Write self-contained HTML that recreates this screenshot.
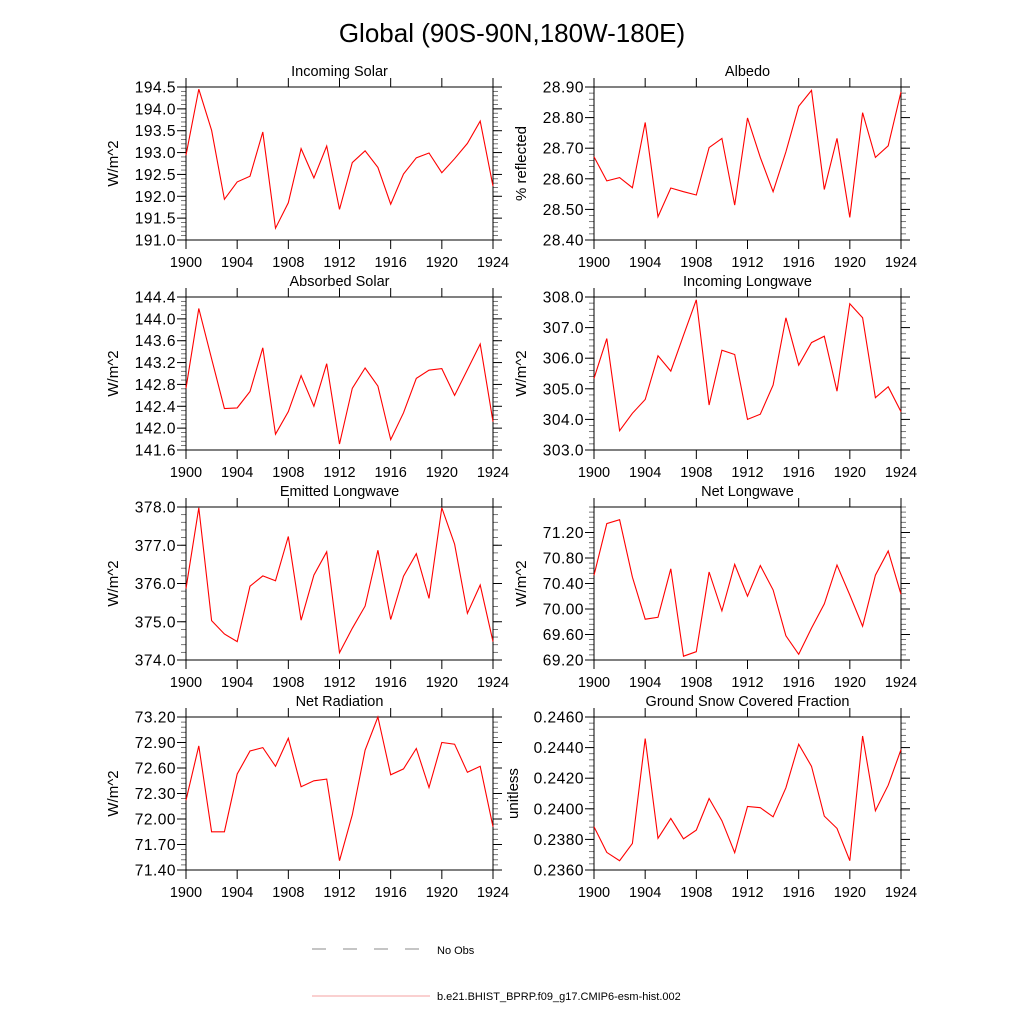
<!DOCTYPE html>
<html><head><meta charset="utf-8"><style>
html,body{margin:0;padding:0;background:#fff;}
svg{display:block;font-family:"Liberation Sans",sans-serif;}
</style></head><body>
<svg id="chart" width="1024" height="1024" viewBox="0 0 1024 1024">
<text x="512" y="42" text-anchor="middle" font-size="26">Global (90S-90N,180W-180E)</text>
<g>
<line x1="312" y1="949" x2="430" y2="949" stroke="#666" stroke-width="0.8" stroke-dasharray="14,17"/>
<text x="437" y="954" font-size="11">No Obs</text>
<line x1="312" y1="996" x2="430" y2="996" stroke="#f08080" stroke-width="0.8"/>
<text x="437" y="1000" font-size="11">b.e21.BHIST_BPRP.f09_g17.CMIP6-esm-hist.002</text>
</g>
</svg>
<script>
const years = [1900,1901,1902,1903,1904,1905,1906,1907,1908,1909,1910,1911,1912,1913,1914,1915,1916,1917,1918,1919,1920,1921,1922,1923,1924];
const xTicks = [1900,1904,1908,1912,1916,1920,1924];
const incomingSolar = [192.94,194.45,193.51,191.93,192.33,192.46,193.47,191.27,191.85,193.09,192.42,193.15,191.70,192.77,193.04,192.66,191.82,192.51,192.88,192.99,192.54,192.86,193.21,193.72,192.23];
const albedo = [28.672,28.593,28.604,28.571,28.784,28.476,28.570,28.558,28.547,28.702,28.732,28.514,28.799,28.670,28.558,28.688,28.837,28.889,28.565,28.732,28.474,28.816,28.670,28.708,28.884];
const absorbedSolar = [142.73,144.19,143.27,142.36,142.37,142.67,143.47,141.89,142.30,142.96,142.40,143.18,141.71,142.73,143.10,142.77,141.79,142.28,142.91,143.06,143.09,142.60,143.07,143.54,142.12];
const incomingLW = [305.34,306.64,303.63,304.20,304.65,306.08,305.58,306.75,307.91,304.47,306.26,306.12,304.00,304.17,305.12,307.32,305.77,306.51,306.72,304.92,307.78,307.32,304.71,305.07,304.25];
const emittedLW = [375.87,377.98,375.03,374.68,374.48,375.93,376.20,376.07,377.23,375.04,376.22,376.83,374.19,374.83,375.41,376.87,375.06,376.19,376.78,375.61,377.98,377.03,375.22,375.96,374.48];
const netLW = [70.53,71.34,71.40,70.50,69.84,69.87,70.63,69.26,69.33,70.58,69.97,70.70,70.20,70.68,70.30,69.58,69.29,69.70,70.08,70.69,70.22,69.73,70.53,70.91,70.23];
const netRad = [72.22,72.86,71.85,71.85,72.53,72.80,72.84,72.62,72.95,72.38,72.45,72.47,71.51,72.05,72.81,73.20,72.52,72.59,72.83,72.37,72.90,72.88,72.55,72.62,71.91];
const snowFrac = [0.23883,0.23715,0.23661,0.23774,0.24459,0.23807,0.23937,0.23804,0.23861,0.24067,0.23922,0.23713,0.24015,0.24007,0.23948,0.24137,0.24422,0.24278,0.23952,0.23872,0.23661,0.24476,0.23987,0.24154,0.24387];
const ticksIncomingSolar = ["191.0","191.5","192.0","192.5","193.0","193.5","194.0","194.5"];
const ticksAlbedo = ["28.40","28.50","28.60","28.70","28.80","28.90"];
const ticksAbsorbed = ["141.6","142.0","142.4","142.8","143.2","143.6","144.0","144.4"];
const ticksIncomingLW = ["303.0","304.0","305.0","306.0","307.0","308.0"];
const ticksEmittedLW = ["374.0","375.0","376.0","377.0","378.0"];
const ticksNetLW = ["69.20","69.60","70.00","70.40","70.80","71.20"];
const ticksNetRad = ["71.40","71.70","72.00","72.30","72.60","72.90","73.20"];
const ticksSnow = ["0.2360","0.2380","0.2400","0.2420","0.2440","0.2460"];

const panels = [
 {name:"incoming-solar",title:"Incoming Solar",ylab:"W/m^2",data:incomingSolar,ticks:ticksIncomingSolar,ymin:191,ymax:194.5,x0:186,y0:87,yoff:68},
 {name:"albedo",title:"Albedo",ylab:"% reflected",data:albedo,ticks:ticksAlbedo,ymin:28.4,ymax:28.9,x0:594,y0:87,yoff:68},
 {name:"absorbed-solar",title:"Absorbed Solar",ylab:"W/m^2",data:absorbedSolar,ticks:ticksAbsorbed,ymin:141.6,ymax:144.4,x0:186,y0:297,yoff:68},
 {name:"incoming-longwave",title:"Incoming Longwave",ylab:"W/m^2",data:incomingLW,ticks:ticksIncomingLW,ymin:303,ymax:308,x0:594,y0:297,yoff:68},
 {name:"emitted-longwave",title:"Emitted Longwave",ylab:"W/m^2",data:emittedLW,ticks:ticksEmittedLW,ymin:374,ymax:378,x0:186,y0:507,yoff:68},
 {name:"net-longwave",title:"Net Longwave",ylab:"W/m^2",data:netLW,ticks:ticksNetLW,ymin:69.2,ymax:71.6,x0:594,y0:507,yoff:68},
 {name:"net-radiation",title:"Net Radiation",ylab:"W/m^2",data:netRad,ticks:ticksNetRad,ymin:71.4,ymax:73.2,x0:186,y0:717,yoff:68},
 {name:"ground-snow-fraction",title:"Ground Snow Covered Fraction",ylab:"unitless",data:snowFrac,ticks:ticksSnow,ymin:0.236,ymax:0.246,x0:594,y0:717,yoff:76}
];
const W = 307, H = 153;
const NS = "http://www.w3.org/2000/svg";
const svg = document.getElementById('chart');
function mk(tag, attrs, parent){
  const e = document.createElementNS(NS, tag);
  for (const k in attrs) e.setAttribute(k, attrs[k]);
  parent.appendChild(e); return e;
}
panels.forEach(p => {
  const g = mk('g', {}, svg);
  
  
  const xs = v => p.x0 + (v - years[0]) / (years[years.length-1] - years[0]) * W;
  const ys = v => p.y0 + H - (v - p.ymin) / (p.ymax - p.ymin) * H;
  const step = (parseFloat(p.ticks[1]) - parseFloat(p.ticks[0]));
  const t0 = parseFloat(p.ticks[0]);
  const minorStep = step / 5;
  for (let v = t0; v <= p.ymax + 1e-9; v += minorStep) {
    const y = ys(v);
    mk('line', {x1:p.x0-5,y1:y,x2:p.x0,y2:y,stroke:'#555','stroke-width':0.8}, g);
    mk('line', {x1:p.x0+W,y1:y,x2:p.x0+W+5,y2:y,stroke:'#555','stroke-width':0.8}, g);
  }
  p.ticks.forEach(t => {
    const y = ys(parseFloat(t));
    mk('line', {x1:p.x0-9,y1:y,x2:p.x0,y2:y,stroke:'#000','stroke-width':1}, g);
    mk('line', {x1:p.x0+W,y1:y,x2:p.x0+W+9,y2:y,stroke:'#000','stroke-width':1}, g);
    const tx = mk('text', {x:p.x0-10,y:y+5.5,'text-anchor':'end','font-size':15.5,'letter-spacing':'0.5'}, g);
    tx.textContent = t;
    
    
  });
  xTicks.forEach(t => {
    const x = xs(t);
    mk('line', {x1:x,y1:p.y0+H,x2:x,y2:p.y0+H+9,stroke:'#000','stroke-width':1}, g);
    mk('line', {x1:x,y1:p.y0-9,x2:x,y2:p.y0,stroke:'#000','stroke-width':1}, g);
    const tx = mk('text', {x:x,y:p.y0+H+27,'text-anchor':'middle','font-size':14.5}, g);
    tx.textContent = t;
    
    
  });
  const fr = mk('rect', {x:p.x0,y:p.y0,width:W,height:H,fill:'none',stroke:'#000','stroke-width':1}, g);
  
  
  const pts = p.data.map((v,i) => xs(years[i]).toFixed(1) + ',' + ys(v).toFixed(1)).join(' ');
  const pl = mk('polyline', {points:pts,fill:'none',stroke:'#ff0000','stroke-width':1.1}, g);
  
  
  const ti = mk('text', {x:p.x0+W/2,y:p.y0-11,'text-anchor':'middle','font-size':14.5}, g);
  ti.textContent = p.title;
  
  
  const yx = p.x0 - p.yoff, yy = p.y0 + H/2;
  const yt = mk('text', {x:yx,y:yy,'text-anchor':'middle','font-size':15,transform:'rotate(-90 '+yx+' '+yy+')'}, g);
  yt.textContent = p.ylab;
  
  
});
</script>
</body></html>
